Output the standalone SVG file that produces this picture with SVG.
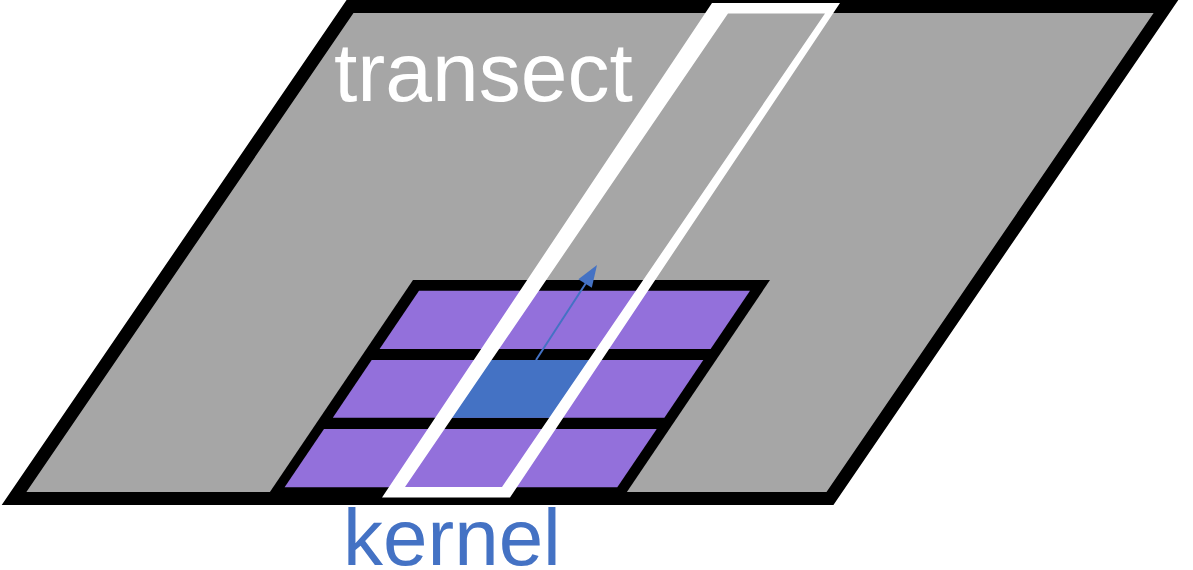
<svg xmlns="http://www.w3.org/2000/svg" width="1193" height="570" viewBox="0 0 1193 570">
  <style>
    .plane { fill: #A6A6A6; stroke: #000000; stroke-width: 13; stroke-linejoin: miter; }
    .kframe { fill: #000000; }
    .cell { fill: #9370DB; }
    .sel { fill: #4472C4; }
    .transect { fill: #FFFFFF; fill-rule: evenodd; }
    .lbl { font-family: "Liberation Sans", Arial, sans-serif; }
    .arrowline { stroke: #4472C4; stroke-width: 2; fill: none; }
    .arrowhead { fill: #4472C4; }
  </style>

  <g id="plane">
    <polygon class="plane" points="350,6.5 1166,6.5 830,498.5 14,498.5"/>
  </g>

  <g id="kernel">
    <polygon class="kframe" points="413,280 770,280 622.5,498.5 265.5,498.5"/>
    <polygon class="cell" points="419,290.7 750,290.7 710.6,349 379.6,349"/>
    <polygon class="cell" points="371.7,360 703.3,360 664.4,417.7 332.8,417.7"/>
    <polygon class="cell" points="324,429 656.7,429 617.3,487.3 284.6,487.3"/>
    <polygon class="sel" points="490,360 590,360 551,417.7 451,417.7"/>
  </g>

  <g id="transect">
    <path class="transect" d="M712,3 L840,3 L510,497.5 L382,497.5 Z M728,13.5 L825,13.5 L502,487 L405,487 Z"/>
  </g>

  <g id="connectors">
    <line class="arrowline" x1="536" y1="360" x2="586" y2="283"/>
    <polygon class="arrowhead" points="597,265 591.8,287.8 578.4,279.2"/>
  </g>

  <g id="label-transect">
    <text class="lbl" x="334" y="101" font-size="84" fill="#FFFFFF">transect</text>
  </g>
  <g id="label-kernel">
    <text class="lbl" x="343" y="565" font-size="80" fill="#4472C4">kernel</text>
  </g>
</svg>
